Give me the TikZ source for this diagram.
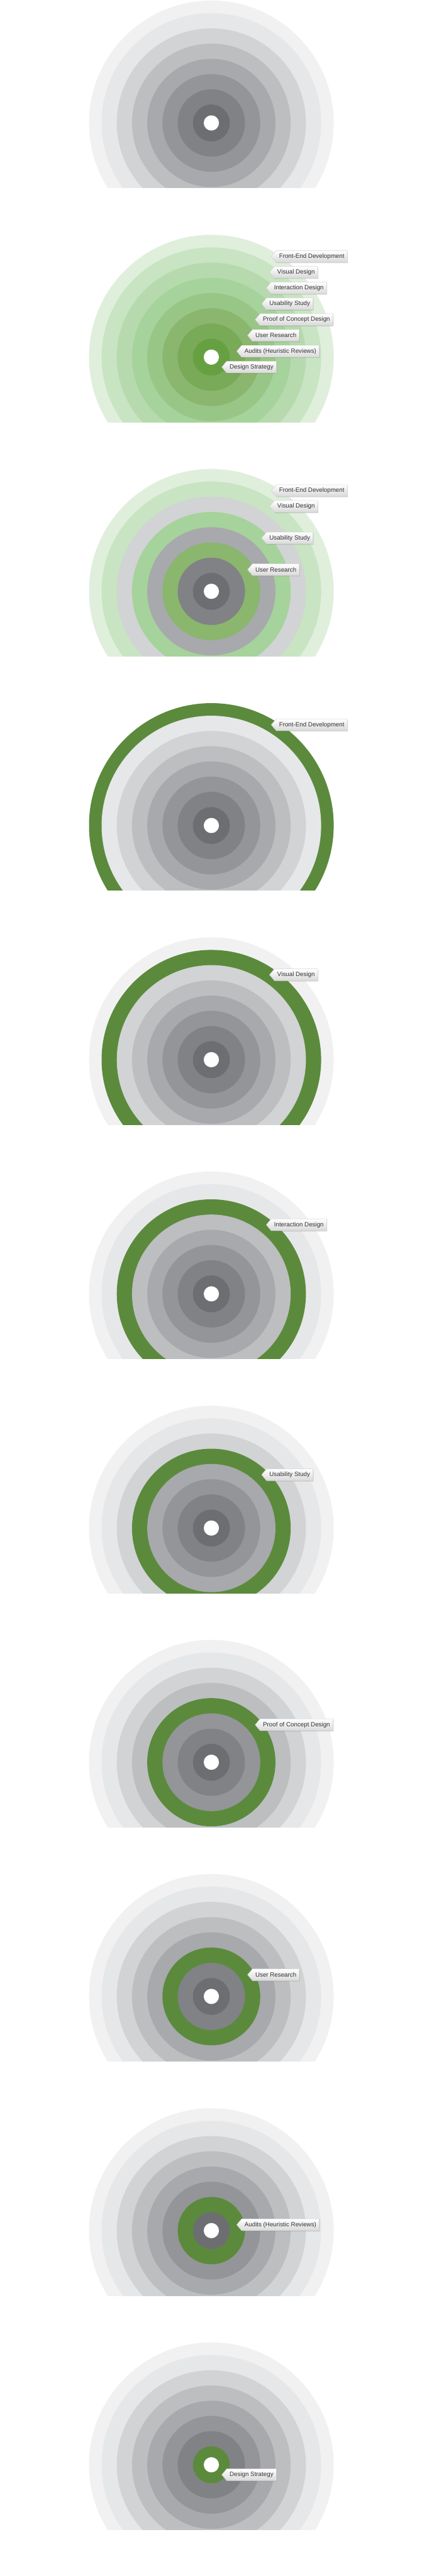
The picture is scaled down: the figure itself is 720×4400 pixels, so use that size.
\documentclass[tikz,border=0pt]{standalone}
\usepackage{fontspec}
\setmainfont{Liberation Sans}
\usepackage{tikz}
\usetikzlibrary{shapes.symbols, shadows}
\usepackage{xcolor}

% ring colours (outside -> inside)
\definecolor{ring_s1}{HTML}{F1F1F2}
\definecolor{ring_s2}{HTML}{E6E7E8}
\definecolor{ring_s3}{HTML}{D1D3D4}
\definecolor{ring_s4}{HTML}{BCBEC0}
\definecolor{ring_s5}{HTML}{A7A9AC}
\definecolor{ring_s6}{HTML}{939598}
\definecolor{ring_s7}{HTML}{808285}
\definecolor{ring_s8}{HTML}{6D6E71}
\definecolor{ring_g1}{HTML}{DFEFDC}
\definecolor{ring_g2}{HTML}{C8E4C2}
\definecolor{ring_g3}{HTML}{B6DAAE}
\definecolor{ring_g4}{HTML}{A6D29B}
\definecolor{ring_g5}{HTML}{98C686}
\definecolor{ring_g6}{HTML}{8AB66E}
\definecolor{ring_g7}{HTML}{79AA57}
\definecolor{ring_g8}{HTML}{67A042}
\definecolor{ring_hl}{HTML}{5B8A3C}
\definecolor{label_text}{HTML}{333333}

\def\grays{ring_s1,ring_s2,ring_s3,ring_s4,ring_s5,ring_s6,ring_s7,ring_s8}
\def\greens{ring_g1,ring_g2,ring_g3,ring_g4,ring_g5,ring_g6,ring_g7,ring_g8}
\def\mixed{ring_g1,ring_g2,ring_s3,ring_g4,ring_s5,ring_g6,ring_s7,ring_s8}
\def\tagnames{1/Front-End Development,2/Visual Design,3/Interaction Design,4/Usability Study,5/Proof of Concept Design,6/User Research,7/Audits (Heuristic Reviews),8/Design Strategy}

\tikzset{
  tagbox/.style={signal, signal to=west, signal pointer angle=100, anchor=west,
    draw=black!18, line width=0.5pt, top color=white, bottom color=black!15,
    drop shadow={shadow xshift=1pt, shadow yshift=-1.4pt, opacity=0.3},
    text=label_text, font=\fontsize{10.5}{12}\selectfont,
    minimum height=20pt, inner xsep=5pt, inner ysep=0pt}
}

% #1 panel, #2 colour list, #3 highlighted ring (0 = none)
\newcommand{\target}[3]{%
  \begin{scope}[shift={(361,-210-400*(#1))}]
    \clip (-215,-111) rectangle (215,215);
    \foreach \c [count=\i] in #2 {
      \pgfmathsetmacro{\r}{\i==1 ? 209 : 239.5-26*\i}
      \ifnum\i=#3 \fill[ring_hl] (0,0) circle[radius=\r];
      \else \fill[\c] (0,0) circle[radius=\r]; \fi
    }
    \fill[white] (0,0) circle[radius=13];
  \end{scope}}

% #1 name, #2 panel, #3 ring, #4 text
\newcommand{\ringtag}[4]{%
  \pgfmathsetmacro{\tx}{{463,460,454.5,446.5,435.5,422.5,404,378.5}[#3-1]}
  \pgfmathsetmacro{\ty}{-210-400*(#2)+172-27*(#3-1)}
  \node[tagbox] (#1) at (\tx,\ty) {#4};}

\begin{document}
\begin{tikzpicture}[x=1pt, y=1pt]

      % 1. Fondo
      \fill[white] (0,0) rectangle (720,-4400);
      \useasboundingbox (0,0) rectangle (720,-4400);

      % 2. Dianas (gris, verde, mezcla)
      \target{0}{\grays}{0}
      \target{1}{\greens}{0}
      \target{2}{\mixed}{0}

      % una diana por anillo resaltado
      \foreach \k in {1,...,8} {\target{\k+2}{\grays}{\k}}

      % 3. Etiquetas
      \foreach \k/\t in \tagnames {\ringtag{all\k}{1}{\k}{\t}}

      \ringtag{mix1}{2}{1}{Front-End Development}
      \ringtag{mix2}{2}{2}{Visual Design}
      \ringtag{mix4}{2}{4}{Usability Study}
      \ringtag{mix6}{2}{6}{User Research}

      \foreach \k/\t in \tagnames {\ringtag{solo\k}{\k+2}{\k}{\t}}

\end{tikzpicture}
\end{document}
